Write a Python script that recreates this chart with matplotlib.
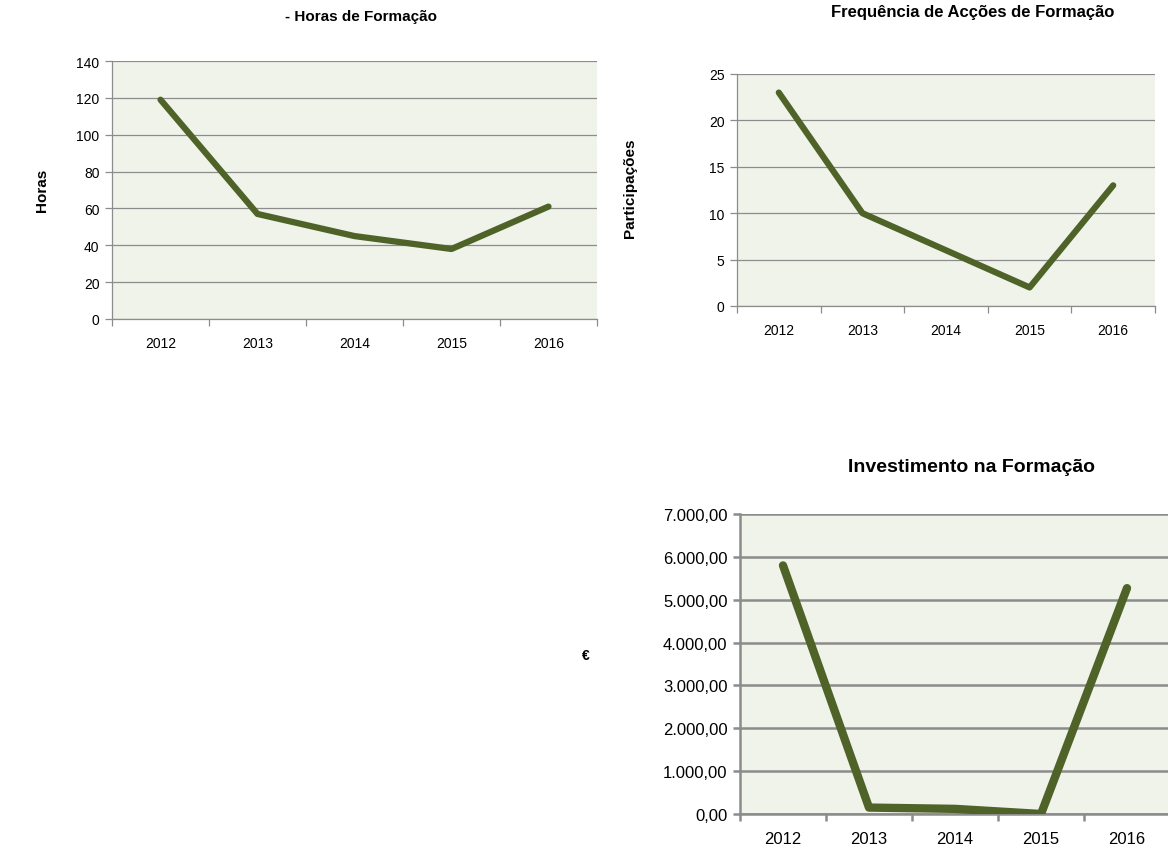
import matplotlib.pyplot as plt
import matplotlib
import numpy as np

matplotlib.rc('font', family=['Liberation Sans', 'DejaVu Sans'])

anos = ['2012', '2013', '2014', '2015', '2016']
horas = [119, 57, 45, 38, 61]
participacoes = [23, 10, 6, 2, 13]
investimento = [5800, 150, 120, 0, 5270]

W, H = 1168, 854
fundo = '#eff3ea'
verde = '#4f6228'
grelha = '#8c8c8c'


def eixo(rect, valores, ymax, passo, lw, glw, fs, fmt=None):
    l, t, r, b = rect
    ax = fig.add_axes([l / W, 1 - b / H, (r - l) / W, (b - t) / H])
    ax.set_facecolor(fundo)
    x = np.arange(len(valores))
    ax.plot(x, valores, color=verde, lw=lw, solid_capstyle='round', solid_joinstyle='round', zorder=3)
    ax.set_xlim(-0.5, len(valores) - 0.5)
    ax.set_ylim(0, ymax)
    ax.set_yticks(np.arange(0, ymax + 1, passo))
    if fmt:
        ax.set_yticklabels([fmt(v) for v in np.arange(0, ymax + 1, passo)])
    ax.set_xticks(x)
    ax.set_xticklabels(anos)
    ax.set_xticks(np.arange(-0.5, len(valores)), minor=True)
    ax.tick_params(axis='x', which='major', length=0, pad=12, labelsize=fs)
    ax.tick_params(axis='x', which='minor', length=5, width=glw, color=grelha, direction='out')
    ax.tick_params(axis='y', length=5, width=glw, color=grelha, pad=4, labelsize=fs)
    ax.grid(axis='y', color=grelha, lw=glw, zorder=1)
    for s in ['top', 'right']:
        ax.spines[s].set_visible(False)
    for s in ['left', 'bottom']:
        ax.spines[s].set_color(grelha)
        ax.spines[s].set_linewidth(glw)
    return ax


fig = plt.figure(figsize=(W / 100, H / 100), dpi=100)

eixo((112, 62, 597, 320), horas, 140, 20, 4.5, 0.9, 10)
fig.text(361 / W, 1 - 17 / H, '- Horas de Formação', ha='center', va='center', fontsize=11, fontweight='bold')
fig.text(42 / W, 1 - 190 / H, 'Horas', rotation=90, ha='center', va='center', fontsize=11, fontweight='bold')

eixo((737, 75, 1155, 307), participacoes, 25, 5, 4.5, 0.9, 10)
fig.text(973 / W, 1 - 12 / H, 'Frequência de Acções de Formação', ha='center', va='center', fontsize=12, fontweight='bold')
fig.text(630 / W, 1 - 188 / H, 'Participações', rotation=90, ha='center', va='center', fontsize=11, fontweight='bold')


def euros(v):
    s = '{:,.2f}'.format(v)
    return s.replace(',', 'X').replace('.', ',').replace('X', '.')


eixo((740, 515, 1170, 815), investimento, 7000, 1000, 6, 1.8, 12, euros)
fig.text(972 / W, 1 - 468 / H, 'Investimento na Formação', ha='center', va='center', fontsize=14, fontweight='bold')
fig.text(586 / W, 1 - 656 / H, '€', ha='center', va='center', fontsize=10, fontweight='bold')

plt.savefig('out.png', dpi=100)
